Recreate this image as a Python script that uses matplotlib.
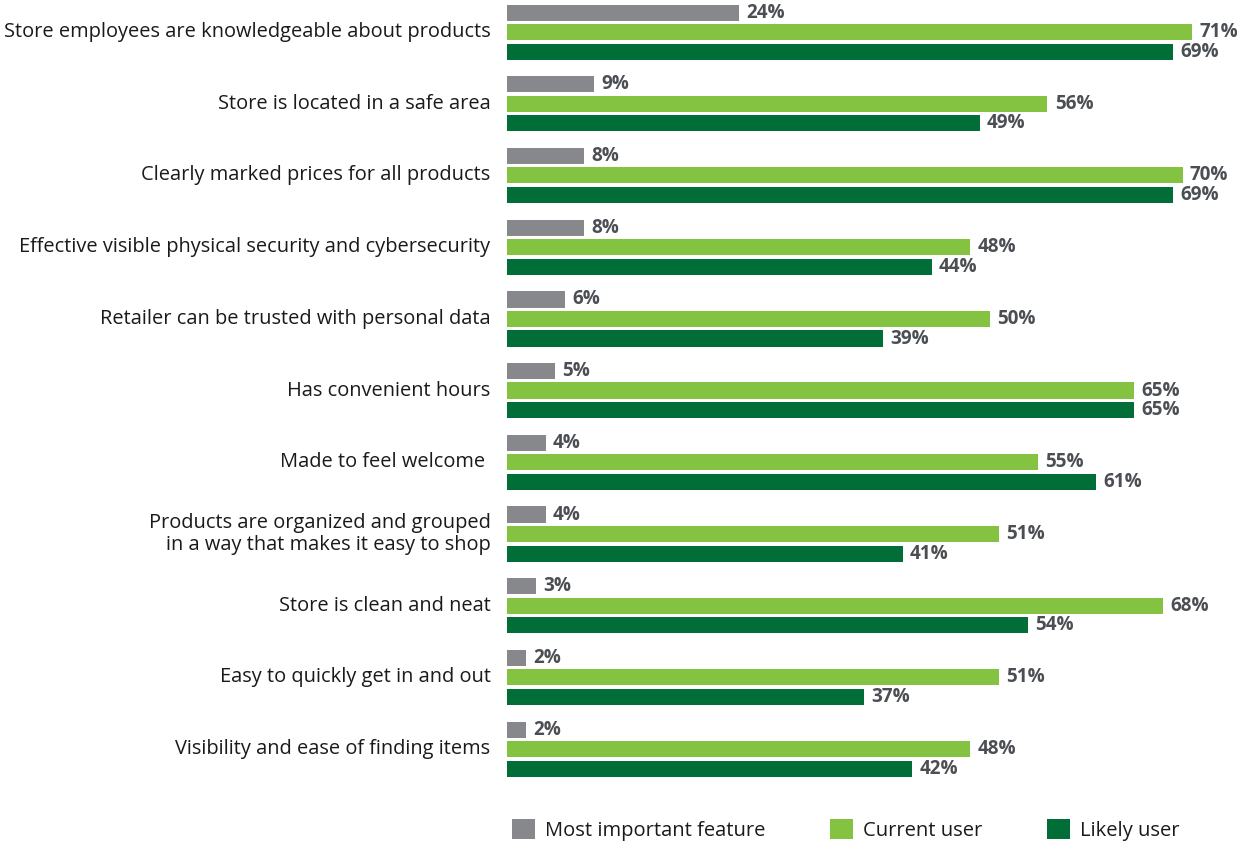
import numpy as np
import matplotlib.pyplot as plt
from matplotlib.patches import Patch

plt.rcParams['font.family'] = ['Open Sans', 'DejaVu Sans']

categories = [
    "Store employees are knowledgeable about products",
    "Store is located in a safe area",
    "Clearly marked prices for all products",
    "Effective visible physical security and cybersecurity",
    "Retailer can be trusted with personal data",
    "Has convenient hours",
    "Made to feel welcome ",
    "Products are organized and grouped\nin a way that makes it easy to shop",
    "Store is clean and neat",
    "Easy to quickly get in and out",
    "Visibility and ease of finding items",
]
most_important = [24, 9, 8, 8, 6, 5, 4, 4, 3, 2, 2]
current_user = [71, 56, 70, 48, 50, 65, 55, 51, 68, 51, 48]
likely_user = [69, 49, 69, 44, 39, 65, 61, 41, 54, 37, 42]

series = [
    ("Most important feature", most_important, "#86888b"),
    ("Current user", current_user, "#84c341"),
    ("Likely user", likely_user, "#026e37"),
]

W, H = 1237, 844
fig = plt.figure(figsize=(W / 100, H / 100), dpi=100)
left_px = 507
ax = fig.add_axes([left_px / W, 0, 1 - left_px / W, 1])

px_per_pct = 9.65
group_gap = 71.7
first_center = 32
ax.set_xlim(0, (W - left_px) / px_per_pct)
ax.set_ylim((H - first_center) / group_gap, -first_center / group_gap)

y = np.arange(len(categories))
offsets = [-0.27, 0, 0.275]
bar_h = 0.225
for (name, vals, color), off in zip(series, offsets):
    bars = ax.barh(y + off, vals, height=bar_h, color=color, label=name)
    for b, v in zip(bars, vals):
        ax.text(v + 0.75, b.get_y() + b.get_height() / 2, f"{v}%",
                va='center', ha='left', fontsize=13.6, fontweight='bold',
                color='#4b4f54')

for yi, cat in zip(y, categories):
    ax.text(-1.7, yi, cat, ha='right', va='center', fontsize=14.4,
            color='#1a1a1a', linespacing=1.15)

ax.axis('off')

handles = [Patch(facecolor=c, label=n) for n, _, c in series]
fig.legend(handles=handles, loc='center left', bbox_to_anchor=(494 / W, 1 - 830 / H),
           ncol=3, frameon=False, fontsize=14.5, handlelength=1.15, handleheight=1.1,
           handletextpad=0.5, columnspacing=3.2, labelcolor='#1a1a1a')

fig.savefig('out.png', dpi=100)
